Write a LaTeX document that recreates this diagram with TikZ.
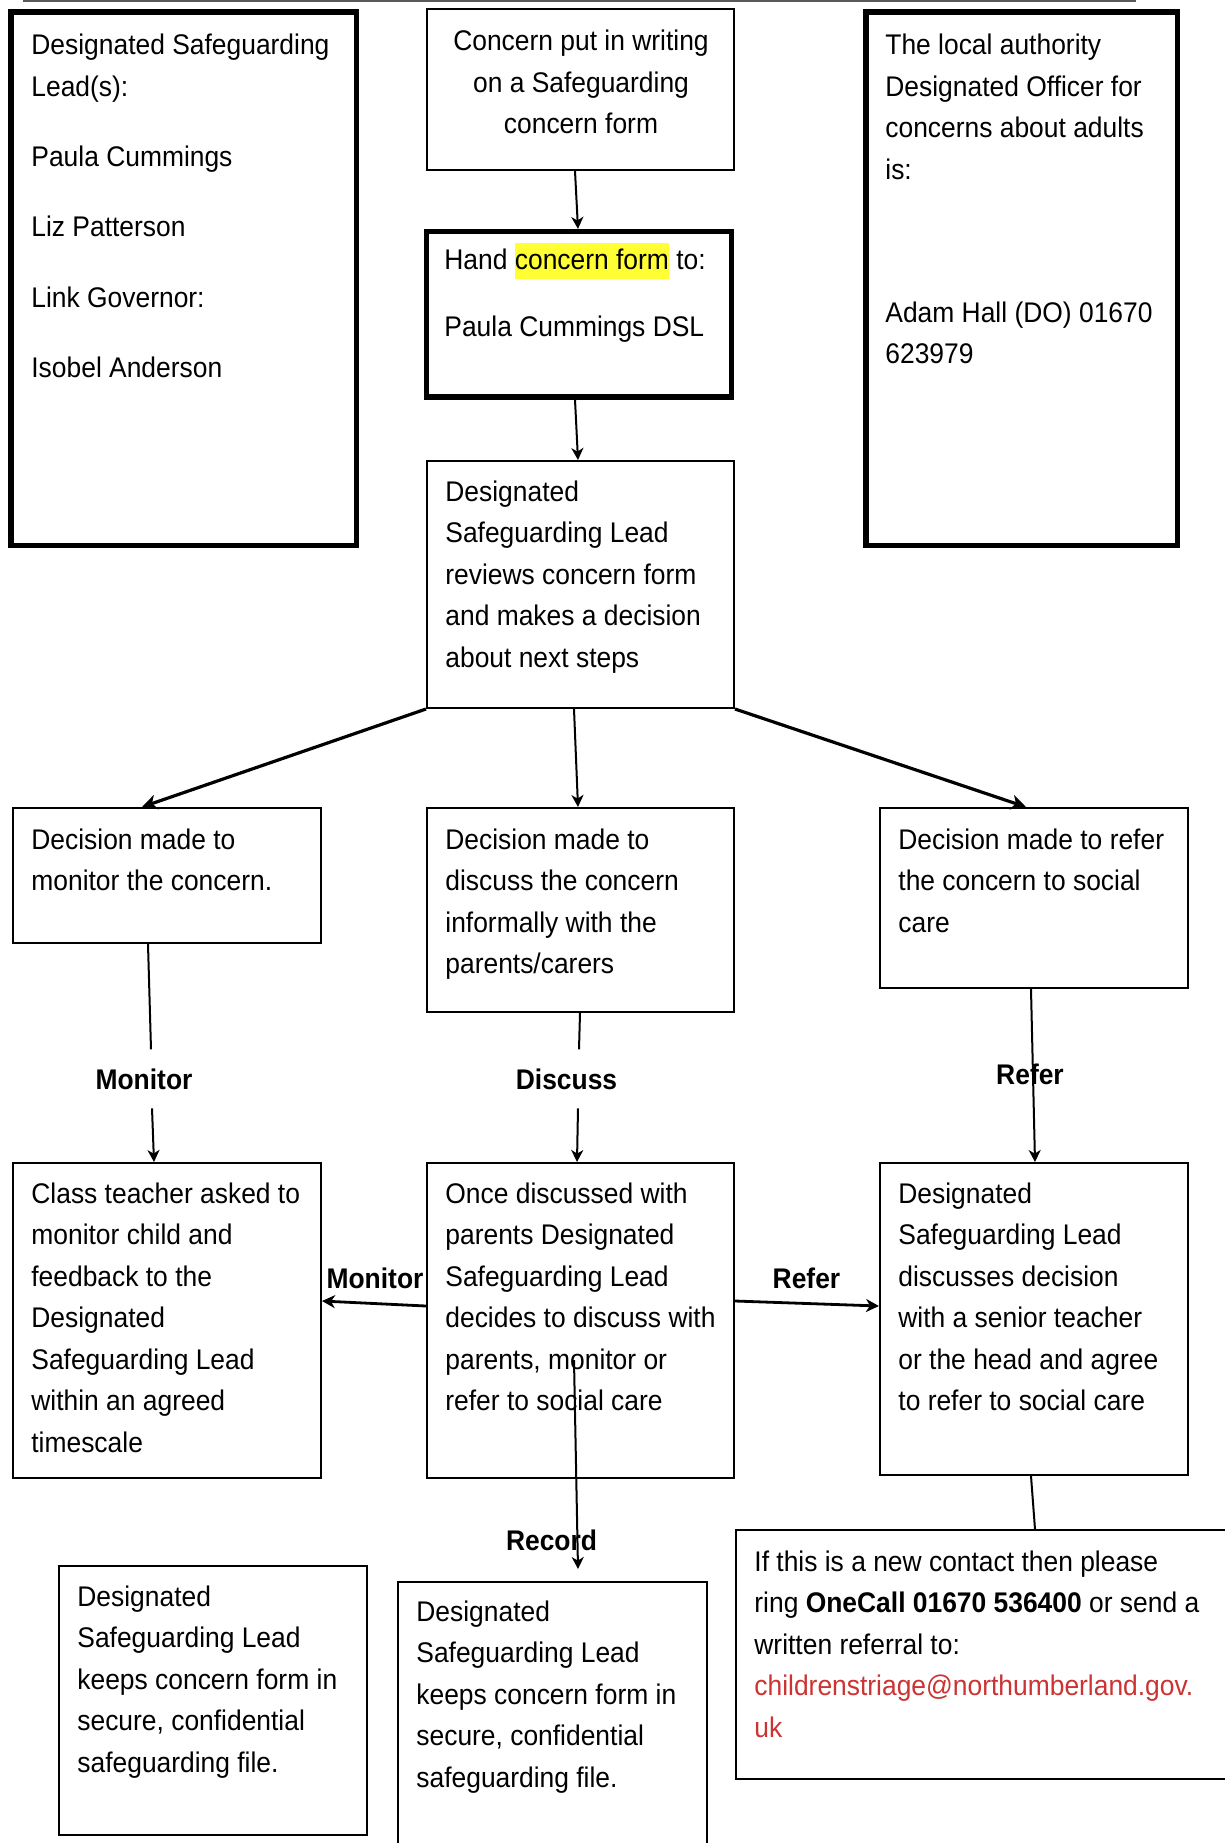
\documentclass[tikz,border=0pt]{standalone}
\usepackage{fontspec}
\setmainfont{Liberation Sans}[FakeStretch=0.93]
\usetikzlibrary{arrows.meta,fit}
\definecolor{hlyellow}{RGB}{255,255,51}
\definecolor{linkred}{RGB}{204,51,51}
\newcommand\hlt[1]{{\setlength{\fboxsep}{0pt}\colorbox{hlyellow}{\rule[-5pt]{0pt}{18pt}#1}}}
\newcommand\fst{\rule{0pt}{10.5pt}}
\begin{document}
\begin{tikzpicture}[x=0.5pt,y=-0.5pt,
  thinbox/.style={draw=black, line width=1pt, inner sep=0pt},
  thickbox/.style={draw=black, line width=2.6pt, inner sep=0pt},
  txt/.style={anchor=north west, inner sep=0pt, align=left, font=\fontsize{14.2pt}{20.75pt}\selectfont},
  lbl/.style={anchor=base, inner xsep=0pt, inner ysep=9.3pt, font=\bfseries\fontsize{14.2pt}{20.75pt}\selectfont},
  arrowthin/.style={-{Stealth[length=6pt,width=6pt,inset=1.8pt]}, line width=1pt},
  arrowthick/.style={-{Stealth[length=7.5pt,width=7.5pt,inset=2.2pt]}, line width=1.6pt},
  arrowmid/.style={-{Stealth[length=6.5pt,width=6.5pt,inset=2pt]}, line width=1.4pt},
  plainline/.style={line width=1pt}
]
\useasboundingbox (0,0) rectangle (1225,1843);
\clip (0,0) rectangle (1225,1843);
\fill[white] (0,0) rectangle (1225,1843);

% top rule
\draw[line width=1pt, black!65] (23,1) -- (1136,1);

% boxes
\node[thickbox, fit={(11,12) (356.5,545.5)}] (b1) {};
\node[thinbox, fit={(427,9) (734,170)}] (b2) {};
\node[thickbox, fit={(866,12) (1177.5,545.5)}] (b3) {};
\node[thickbox, fit={(426.5,231.5) (731.5,397)}] (b4) {};
\node[thinbox, fit={(427,461) (734,708)}] (b5) {};
\node[thinbox, fit={(13,808) (321,943)}] (b6) {};
\node[thinbox, fit={(427,808) (734,1012)}] (b7) {};
\node[thinbox, fit={(880,808) (1188,988)}] (b8) {};
\node[thinbox, fit={(13,1163) (321,1478)}] (b9) {};
\node[thinbox, fit={(427,1163) (734,1478)}] (b10) {};
\node[thinbox, fit={(880,1163) (1188,1475)}] (b11) {};
\node[thinbox, fit={(59,1566) (367,1835)}] (b12) {};
\node[thinbox, fit={(398,1582) (707,1870)}] (b13) {};
\node[thinbox, fit={(736,1530) (1245,1779)}] (b14) {};

% texts
\node[txt] (t1) at (31,33.2) {\fst Designated Safeguarding\\Lead(s):\\[14.45pt]Paula Cummings\\[14.45pt]Liz Patterson\\[14.45pt]Link Governor:\\[14.45pt]Isobel Anderson};
\node[txt, anchor=north, align=center] (t2) at (581,29.5) {\fst Concern put in writing\\on a Safeguarding\\concern form};
\node[txt] (t3) at (885,33.2) {\fst The local authority\\Designated Officer for\\concerns about adults\\is:\\[50.9pt]Adam Hall (DO) 01670\\623979};
\node[txt] (t4) at (444,243) {Hand \hlt{concern form} to:\\[12.75pt]Paula Cummings DSL};
\node[txt] (t5) at (445,480) {\fst Designated\\Safeguarding Lead\\reviews concern form\\and makes a decision\\about next steps};
\node[txt] (t6) at (31,828) {\fst Decision made to\\monitor the concern.};
\node[txt] (t7) at (445,828) {\fst Decision made to\\discuss the concern\\informally with the\\parents/carers};
\node[txt] (t8) at (898,828) {\fst Decision made to refer\\the concern to social\\care};
\node[txt] (t9) at (31,1182) {\fst Class teacher asked to\\monitor child and\\feedback to the\\Designated\\Safeguarding Lead\\within an agreed\\timescale};
\node[txt] (t10) at (445,1182) {\fst Once discussed with\\parents Designated\\Safeguarding Lead\\decides to discuss with\\parents, monitor or\\refer to social care};
\node[txt] (t11) at (898,1182) {\fst Designated\\Safeguarding Lead\\discusses decision\\with a senior teacher\\or the head and agree\\to refer to social care};
\node[txt] (t12) at (77,1585) {\fst Designated\\Safeguarding Lead\\keeps concern form in\\secure, confidential\\safeguarding file.};
\node[txt] (t13) at (416,1600) {\fst Designated\\Safeguarding Lead\\keeps concern form in\\secure, confidential\\safeguarding file.};
\node[txt] (t14) at (754,1550) {\fst If this is a new contact then please\\ring \textbf{OneCall 01670 536400} or send a\\written referral to:\\\textcolor{linkred}{childrenstriage@northumberland.gov.}\\\textcolor{linkred}{uk}};

% labels
\node[lbl] (lm) at (144,1089) {Monitor};
\node[lbl] (ld) at (566.5,1089) {Discuss};
\node[lbl] (lr) at (1030,1084) {Refer};
\node[lbl] (lm2) at (375,1288) {Monitor};
\node[lbl] (lr2) at (806.5,1288) {Refer};
\node[lbl] (lrec) at (551.5,1550) {Record};

% connectors
\draw[arrowthin] (575,0 |- b2.south) -- (578,0 |- b4.north);
\draw[arrowthin] (575,0 |- b4.south) -- (578,0 |- b5.north);
\draw[arrowthick] (b5.south west) -- (142,0 |- b6.north);
\draw[arrowthin] (574,0 |- b5.south) -- (578,0 |- b7.north);
\draw[arrowthick] (b5.south east) -- (1026,0 |- b8.north);

\draw[plainline] (148,0 |- b6.south) -- (151,0 |- lm.north);
\draw[arrowthin] (152,0 |- lm.south) -- (154,0 |- b9.north);
\draw[plainline] (580,0 |- b7.south) -- (579,0 |- ld.north);
\draw[arrowthin] (578,0 |- ld.south) -- (577,0 |- b10.north);
\draw[arrowthin] (1031,0 |- b8.south) -- (1035,0 |- b11.north);

\draw[arrowmid] (b10.west |- 0,1306) -- (b9.east |- 0,1301);
\draw[arrowmid] (b10.east |- 0,1301) -- (b11.west |- 0,1306);

\coordinate (recs) at (574,1360);
\coordinate (rece) at (578,1569);
\draw[arrowthin] (recs) -- (rece);

\draw[plainline] (1031,0 |- b11.south) -- (1035,0 |- b14.north);
\end{tikzpicture}
\end{document}
